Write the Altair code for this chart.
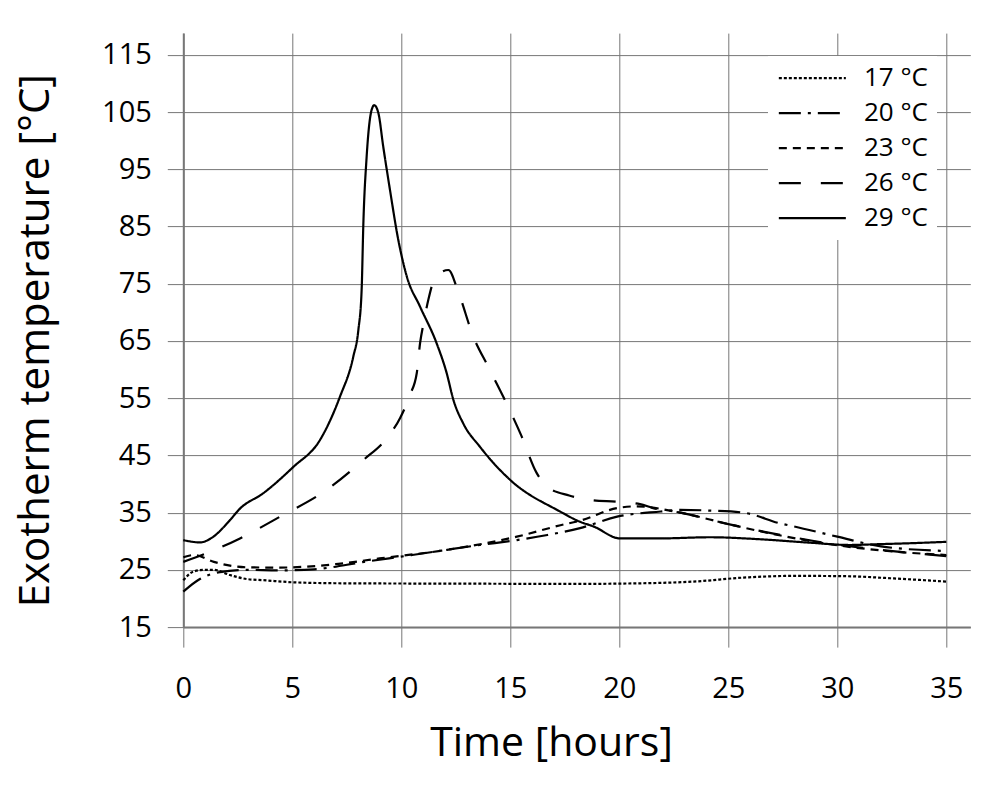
import altair as alt
import pandas as pd

# Cure temperature series (legend order)
series_names = ["17 °C", "20 °C", "23 °C", "26 °C", "29 °C"]

hours_17 = [0, 0.46, 0.92, 1.4, 2.14, 2.9, 3.67, 5.2, 7.5, 12.1, 18.2, 20.0, 23.4, 25.7, 28.0, 30.3, 32.6, 35.0]
temp_17 = [23.2, 24.7, 25.0, 25.0, 24.1, 23.4, 23.2, 22.8, 22.65, 22.6, 22.55, 22.6, 22.95, 23.65, 23.95, 23.9, 23.5, 22.95]

hours_20 = [0, 0.76, 1.68, 2.9, 4.4, 6.0, 8.3, 10.5, 13.6, 15.3, 16.7, 18.2, 19.9, 21.9, 22.8, 24.2, 25.7, 27.4, 28.0, 30.0, 32.0, 35.0]
temp_20 = [21.2, 23.4, 24.6, 25.0, 24.9, 25.1, 26.4, 27.6, 29.35, 30.2, 31.1, 32.3, 34.3, 35.2, 35.5, 35.35, 35.0, 33.1, 32.6, 30.8, 29.1, 28.3]

hours_23 = [0, 0.5, 1.4, 2.9, 4.4, 7.0, 9.0, 12.1, 15.3, 17.3, 18.2, 19.9, 20.8, 22.8, 25.0, 27.4, 30.0, 32.0, 35.0]
temp_23 = [27.2, 27.6, 26.4, 25.45, 25.4, 26.0, 27.0, 28.5, 30.8, 32.8, 33.6, 35.8, 36.1, 35.0, 33.0, 31.0, 29.3, 28.4, 27.6]

hours_26 = [0, 1.07, 2.6, 4.44, 6.58, 8.26, 9.33, 9.94, 10.4, 10.71, 10.86, 11.02, 11.24, 11.55, 12.16, 12.61, 13.3, 14.0, 15.0, 15.5, 16.2, 16.7, 17.7, 18.7, 19.9, 20.95, 21.55, 22.8, 25.0, 27.4, 30.0, 32.0, 35.0]
temp_26 = [26.4, 27.9, 30.5, 34.3, 39.0, 44.2, 48.0, 51.5, 55.6, 59.4, 64.6, 68.1, 72.2, 76.0, 77.4, 73.6, 65.8, 60.4, 52.7, 48.5, 42.0, 39.5, 38.0, 37.2, 36.9, 36.5, 35.8, 35.0, 33.0, 31.1, 29.4, 28.5, 27.4]

hours_29 = [0, 0.77, 1.38, 2.14, 2.6, 3.67, 5.05, 6.27, 7.19, 7.8, 8.03, 8.18, 8.26, 8.41, 8.64, 8.76, 8.95, 9.17, 9.48, 9.86, 10.25, 10.86, 11.62, 12.08, 12.39, 12.84, 13.61, 15.0, 17.28, 18.2, 18.81, 20.03, 21.87, 24.16, 26.45, 28.75, 30.58, 31.96, 33.3, 35.0]
temp_29 = [30.2, 29.8, 30.8, 33.7, 35.7, 38.4, 43.0, 47.7, 55.3, 62.3, 66.9, 73.9, 85.6, 97.2, 105.4, 106.2, 104.8, 99.0, 91.4, 82.7, 76.3, 71.0, 64.6, 59.4, 54.7, 50.6, 46.5, 40.7, 35.2, 33.4, 32.6, 30.5, 30.5, 30.7, 30.35, 29.75, 29.35, 29.5, 29.65, 29.9]

x_ticks = [0, 5, 10, 15, 20, 25, 30, 35]
y_ticks = [15, 25, 35, 45, 55, 65, 75, 85, 95, 105, 115]

dash_patterns = [[3, 2], [22, 7, 3, 7], [8, 6], [22, 20], [1, 0]]

rows = []
for name, hrs, temps in zip(
    series_names,
    [hours_17, hours_20, hours_23, hours_26, hours_29],
    [temp_17, temp_20, temp_23, temp_26, temp_29],
):
    for h, t in zip(hrs, temps):
        rows.append({"series": name, "hours": h, "temp": t})
df = pd.DataFrame(rows)

FONT = "Open Sans"
GRID = "#777777"

chart = (
    alt.Chart(df)
    .mark_line(color="black", strokeWidth=2.2, interpolate="monotone")
    .encode(
        x=alt.X(
            "hours:Q",
            scale=alt.Scale(domain=[0, 36.1], nice=False, zero=False),
            axis=alt.Axis(
                values=x_ticks,
                title="Time [hours]",
                grid=True,
                gridColor=GRID,
                gridWidth=1,
                domainColor=GRID,
                domainWidth=2,
                tickColor=GRID,
                tickWidth=1,
                tickSize=20,
                labelFont=FONT,
                labelFontSize=29,
                labelColor="black",
                labelPadding=50,
                labelBaseline="alphabetic",
                labelFlush=False,
                labelOverlap=False,
                titleFont=FONT,
                titleFontSize=41,
                titleFontWeight="normal",
                titleColor="black",
                titleX=367.7,
                titleY=128,
                titleAlign="center",
                titleBaseline="alphabetic",
            ),
        ),
        y=alt.Y(
            "temp:Q",
            scale=alt.Scale(domain=[15, 118.8], nice=False, zero=False),
            axis=alt.Axis(
                values=y_ticks,
                title="Exotherm temperature [°C]",
                grid=True,
                gridColor=GRID,
                gridWidth=1,
                domainColor=GRID,
                domainWidth=2,
                tickColor=GRID,
                tickWidth=1,
                tickSize=16,
                labelFont=FONT,
                labelFontSize=29,
                labelColor="black",
                labelPadding=16,
                labelFlush=False,
                labelOverlap=False,
                titleFont=FONT,
                titleFontSize=42,
                titleFontWeight="normal",
                titleColor="black",
                titleAngle=270,
                titleX=-135,
                titleY=307,
                titleAlign="center",
                titleBaseline="alphabetic",
            ),
        ),
        strokeDash=alt.StrokeDash(
            "series:N",
            scale=alt.Scale(domain=series_names, range=dash_patterns),
            legend=alt.Legend(
                title=None,
                orient="none",
                legendX=584.7,
                legendY=23,
                fillColor="white",
                padding=9,
                symbolType="M-1,0H5",
                symbolSize=499,
                symbolStrokeWidth=2.2,
                symbolStrokeColor="black",
                symbolFillColor="transparent",
                labelFont=FONT,
                labelFontSize=26,
                labelColor="black",
                labelOffset=61,
                rowPadding=9,
            ),
        ),
    )
    .properties(
        width=787,
        height=594,
        padding={"left": 183.3, "top": 33.1, "right": 29.7, "bottom": 172.9},
        autosize=alt.AutoSizeParams(type="none"),
    )
    .configure_view(stroke=None)
)

chart.save("out.html", embed_options={"renderer": "svg", "actions": False})
